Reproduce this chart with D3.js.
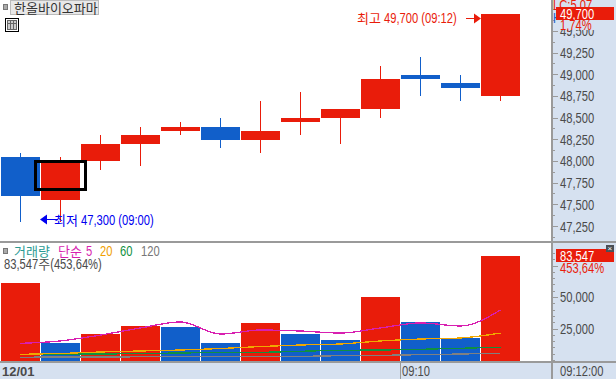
<!DOCTYPE html>
<html><head><meta charset="utf-8">
<script src="https://cdn.jsdelivr.net/npm/d3@7"></script>
<style>html,body{margin:0;padding:0;background:#fff}svg{display:block}
text{font-family:"Liberation Sans",sans-serif;font-size:14px;white-space:pre}
text.ko{font-family:"Noto Sans CJK KR",sans-serif;font-size:13px}</style>
</head><body><svg id="c" width="616" height="379"></svg>
<script>
const opens =[48050,47550,48000,48200,48350,48400,48250,48450,48500,48600,49000,48900,48750];
const closes=[47600,48000,48200,48300,48400,48250,48350,48500,48600,48950,48950,48850,49700];
const highs =[48100,48050,48300,48400,48450,48500,48700,48800,48600,49100,49200,49000,49700];
const lows  =[47300,47300,47900,47950,48300,48150,48100,48300,48200,48500,48750,48700,48700];
const volumes=[62100,14500,21800,27400,26600,14500,29800,21800,16900,50800,30600,18500,83547];
const ma5  =[14000,15900,20600,26200,31000,21400,24600,23800,22200,26200,30200,27800,40500];
const ma20 =[5300,5950,7150,7950,8700,9900,11500,12700,13500,15900,17450,18250,22200];
const ma60 =[5150,5550,5550,5950,6350,6750,6900,7700,8500,8700,9300,10100,10900];
const ma120=[2950,3150,3150,3350,3500,3550,3750,3750,4200,4500,5000,5550,6100];
const priceTicks=[47250,47500,47750,48000,48250,48500,48750,49000,49250,49500];
const volTicks=[25000,50000];
const title="한올바이오파마";
const legend=[["거래량","#2a9a94"],["단순","#d81fb0"],["5","#d81fb0"],["20","#f0a000"],["60","#109040"],["120","#777777"]];

const RED="#e91c0a",BLUE="#115fca",GRID="#9a9a9a",PANEL="#d6e1f0",TXT="#4a4a4a";
const svg=d3.select("#c");
const idx=d3.range(opens.length);
const x=d3.scaleBand().domain(idx).range([1,520]).paddingInner(0.025).paddingOuter(0);
const cx=i=>Math.floor(x(i)+x.bandwidth()/2)+0.5;
const y=d3.scaleLinear().domain([47250,49250]).range([226.5,53]);
const v=d3.scaleLinear().domain([0,50000]).range([361,298]);
const fmt=d3.format(",");
const SQ=0.8;

// Hangul runs keep their width; Latin/digit runs are narrowed to the reference's tall, thin look.
function label(str,px,py,color){
 let cur=px;
 (str.match(/[\uac00-\ud7a3]+|[^\uac00-\ud7a3]+/g)||[]).forEach(r=>{
  const ko=/[\uac00-\ud7a3]/.test(r);
  const t=svg.append("text").attr("fill",color).text(r);
  if(ko){t.attr("class","ko").attr("x",cur).attr("y",py);cur+=t.node().getComputedTextLength();}
  else{t.attr("transform",`translate(${cur},${py}) scale(${SQ},1)`);cur+=t.node().getComputedTextLength()*SQ;}
 });
}

svg.append("rect").attr("x",552).attr("width",64).attr("height",379).attr("fill",PANEL);
svg.append("rect").attr("y",362).attr("width",616).attr("height",17).attr("fill",PANEL);

// candles
const candle=svg.append("g").attr("shape-rendering","crispEdges");
const up=i=>closes[i]>=opens[i];
candle.selectAll("line").data(idx).join("line")
 .attr("x1",cx).attr("x2",cx).attr("y1",i=>y(highs[i])).attr("y2",i=>y(lows[i]))
 .attr("stroke",i=>up(i)?RED:BLUE);
candle.selectAll("rect").data(idx).join("rect")
 .attr("x",i=>x(i)).attr("width",x.bandwidth())
 .attr("y",i=>y(Math.max(opens[i],closes[i])))
 .attr("height",i=>Math.abs(y(opens[i])-y(closes[i])))
 .attr("fill",i=>up(i)?RED:BLUE);
svg.append("rect").attr("x",35).attr("y",161.5).attr("width",50).attr("height",28)
 .attr("fill","none").attr("stroke","#000").attr("stroke-width",3).attr("shape-rendering","crispEdges");

// volume: coloured by change from the previous bar
svg.append("g").attr("shape-rendering","crispEdges").selectAll("rect").data(idx).join("rect")
 .attr("x",i=>x(i)).attr("width",x.bandwidth()).attr("y",i=>v(volumes[i]))
 .attr("height",i=>v(0)-v(volumes[i]))
 .attr("fill",i=>(i===0||volumes[i]>=volumes[i-1])?RED:BLUE);
const ln=d3.line().x((d,i)=>cx(i)).y(d=>v(d)).curve(d3.curveMonotoneX);
[[ma120,"#808080"],[ma60,"#109040"],[ma20,"#f0a800"],[ma5,"#d81fb0"]].forEach(([s,c])=>{
 svg.append("path").attr("d",ln(s)).attr("fill","none").attr("stroke",c).attr("stroke-width",1.3).attr("shape-rendering","crispEdges");
});

// frame lines
const frame=svg.append("g").attr("stroke",GRID).attr("shape-rendering","crispEdges");
frame.append("line").attr("x1",551.5).attr("x2",551.5).attr("y1",0).attr("y2",379).attr("stroke-width",2);
frame.append("line").attr("x1",0).attr("x2",616).attr("y1",241.5).attr("y2",241.5).attr("stroke-width",2);
frame.append("line").attr("x1",0).attr("x2",616).attr("y1",362).attr("y2",362).attr("stroke-width",2);
frame.append("line").attr("x1",400.5).attr("x2",400.5).attr("y1",362).attr("y2",379);

// price axis
const pa=svg.append("g").attr("transform","translate(552,0)");
const minorP=d3.range(47125,49751,125).filter(t=>y(t)>0&&y(t)<240);
pa.append("g").attr("stroke",GRID).attr("shape-rendering","crispEdges").selectAll("line").data(minorP).join("line")
 .attr("x1",0).attr("x2",t=>t%250===0?6:3).attr("y1",y).attr("y2",y);
priceTicks.forEach(t=>label(fmt(t),560,y(t)+5,TXT));

// volume axis
const va=svg.append("g").attr("transform","translate(552,0)");
const minorV=d3.range(0,85001,5000);
va.append("g").attr("stroke",GRID).attr("shape-rendering","crispEdges").selectAll("line").data(minorV).join("line")
 .attr("x1",0).attr("x2",t=>t%25000===0&&t>0?6:3).attr("y1",t=>v(t)-0.5).attr("y2",t=>v(t)-0.5);
volTicks.forEach(t=>label(fmt(t),560,v(t)+4,TXT));

// top-right labels
label("LC:5.07",553,10,RED);
label("H",553,23,BLUE);
svg.append("rect").attr("x",556).attr("y",7).attr("width",58).attr("height",13).attr("fill",RED);
label(fmt(49700),560,18.5,"#fff");
svg.append("rect").attr("x",556).attr("y",20).attr("width",60).attr("height",10).attr("fill",PANEL);
label("1,74%",560,30,RED);
svg.append("rect").attr("x",556).attr("y",249).attr("width",58).attr("height",13).attr("fill",RED);
label(fmt(83547),560,260.5,"#fff");
label("453,64%",560,272.5,RED);
svg.append("rect").attr("x",606).attr("y",245).attr("width",8).attr("height",7).attr("fill","#4a4f55");
svg.append("text").attr("x",607.5).attr("y",251).attr("fill","#fff").style("font-size","8px").text("×");

// annotations
label("최고 49,700 (09:12)",357,23,RED);
svg.append("path").attr("d","M466 18.5H475").attr("stroke",RED).attr("fill","none").attr("shape-rendering","crispEdges");
svg.append("path").attr("d","M474 13.5L481 18.5L474 23.5Z").attr("fill",RED);
svg.append("path").attr("d","M46 219.5H58").attr("stroke","#0000f0").attr("fill","none").attr("shape-rendering","crispEdges");
svg.append("path").attr("d","M40 219.5L47 214.5V224.5Z").attr("fill","#0000f0");
label("최저 47,300 (09:00)",54,224.5,"#0000f0");

// title
svg.append("rect").attr("x",3.5).attr("y",4.5).attr("width",4).attr("height",5).attr("fill","#aaa").attr("stroke","#777");
svg.append("rect").attr("x",10.5).attr("y",0.5).attr("width",88).attr("height",14).attr("fill","#e8e8e8").attr("stroke","#bbb");
label(title,14,12.5,"#333");
const ic=svg.append("g").attr("shape-rendering","crispEdges");
ic.append("rect").attr("x",5.5).attr("y",18.5).attr("width",13).attr("height",13).attr("fill","#fff").attr("stroke","#000");
ic.append("rect").attr("x",7.5).attr("y",20.5).attr("width",9).attr("height",9).attr("fill","#ccc").attr("stroke","#666");
ic.append("path").attr("d","M10.5 21V29M13.5 21V29M8 23.5H16").attr("stroke","#666").attr("fill","none");

// legend
svg.append("rect").attr("x",3.5).attr("y",248.5).attr("width",4).attr("height",5).attr("fill","#aaa").attr("stroke","#777");
const legX=[14,58,86,100,120,141];
legend.forEach((d,i)=>label(d[0],legX[i],255.5,d[1]));
label("83,547주(453,64%)",4,268.5,TXT);

// bottom labels
svg.append("text").attr("x",2).attr("y",376).attr("fill",TXT).style("font-size","13px").style("font-weight","bold").text("12/01");
label("09:10",402,375.5,TXT);
label("09:12:00",560,375.5,TXT);
</script></body></html>
